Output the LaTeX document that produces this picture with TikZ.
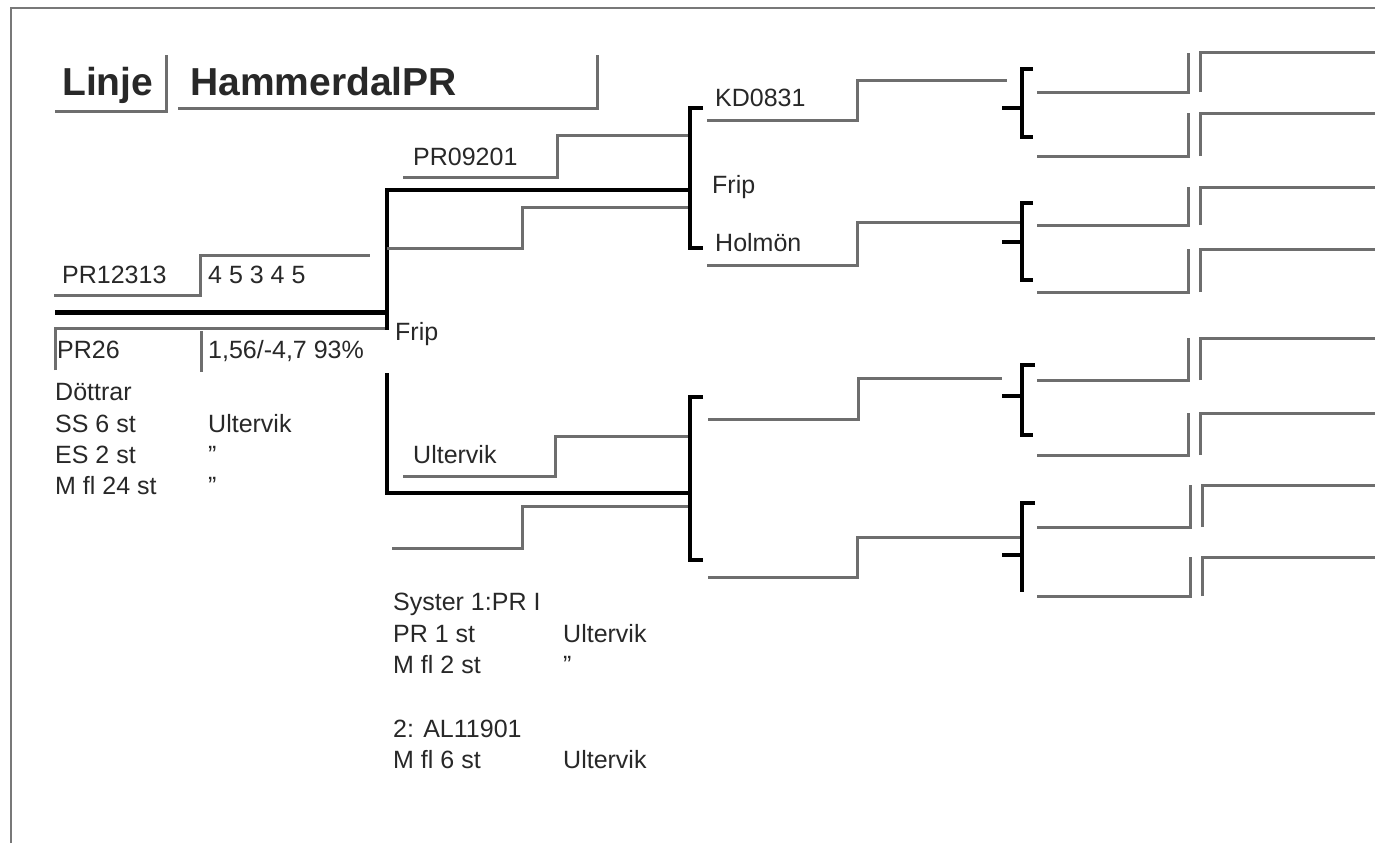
\documentclass[tikz,border=0pt]{standalone}
\usepackage{fontspec}
\setmainfont{Liberation Sans}
\definecolor{lgray}{RGB}{110,110,110}
\definecolor{ink}{RGB}{40,40,40}
\definecolor{frame}{RGB}{120,120,120}
\newcommand{\sq}{\char"22\relax}
\begin{document}
\begin{tikzpicture}[x=1pt,y=-1pt,
  gl/.style={draw=lgray,line width=3pt,line join=miter},
  bl/.style={draw=black,line width=3.5pt,line join=miter},
  bk/.style={draw=black,line width=5pt},
  brk/.style={draw=black,line width=4.5pt,line join=miter},
  txt/.style={inner sep=0pt,anchor=base west,text=ink,font=\fontsize{25}{30}\selectfont},
  ttl/.style={inner sep=0pt,anchor=base west,text=ink,font=\fontsize{39}{44}\selectfont\bfseries}]
\useasboundingbox (0,0) rectangle (1375,843);
\fill[white] (0,0) rectangle (1375,843);
% frame
\draw[frame,line width=1.5pt] (11,843) -- (11,8) -- (1375,8);
% title
\node[ttl] (linje) at (62,95) {Linje};
\node[ttl] (hammer) at (190,95) {HammerdalPR};
\draw[gl] (55,111) -- (166,111) -- (166,55);
\draw[gl] (178,108) -- (597,108) -- (597,55);
% left block
\node[txt] (pr12313) at (62,283) {PR12313};
\node[txt] (score) at (208,283) {4 5 3 4 5};
\node[txt] (pr26) at (57,358) {PR26};
\node[txt] (idx) at (208,358) {1,56/-4,7 93\%};
\node[txt] (dottrar) at (55,400) {Döttrar};
\node[txt] (ss) at (55,432) {SS 6 st};
\node[txt] (es) at (55,463) {ES 2 st};
\node[txt] (mfl) at (55,494) {M fl 24 st};
\node[txt] (ult1) at (208,432) {Ultervik};
\node[txt] (q1) at (208,463) {\sq};
\node[txt] (q2) at (208,494) {\sq};
\draw[gl] (54,295) -- (200,295) -- (200,255) -- (370,255);
\draw[bk] (55,312) -- (387,312);
\draw[gl] (55,370) -- (55,328) -- (387,328);
\draw[gl] (201,331) -- (201,372);
% sire branch
\node[txt] (frip1) at (395,340) {Frip};
\draw[bl] (690,190) -- (387,190) -- (387,330);
\draw[gl] (387,248) -- (522,248) -- (522,207) -- (690,207);
\node[txt] (pr09201) at (413,165) {PR09201};
\draw[gl] (403,177) -- (557,177) -- (557,135) -- (688,135);
\draw[brk] (703,108) -- (690,108) -- (690,248) -- (703,248);
\node[txt] (kd) at (715,106) {KD0831};
\node[txt] (frip2) at (712,193) {Frip};
\node[txt] (holmon) at (715,251) {Holmön};
\draw[gl] (707,120) -- (857,120) -- (857,80) -- (1007,80);
\draw[gl] (707,265) -- (857,265) -- (857,222) -- (1020,222);
% dam branch
\draw[bl] (387,373) -- (387,493) -- (690,493);
\node[txt] (ult2) at (413,463) {Ultervik};
\draw[gl] (403,476) -- (555,476) -- (555,436) -- (688,436);
\draw[gl] (392,548) -- (522,548) -- (522,506) -- (690,506);
\draw[brk] (703,397) -- (690,397) -- (690,560) -- (703,560);
\draw[gl] (708,419) -- (858,419) -- (858,378) -- (1002,378);
\draw[gl] (708,577) -- (857,577) -- (857,537) -- (1020,537);
% sisters
\node[txt] (syster) at (393,610) {Syster 1:PR I};
\node[txt] (pr1) at (393,642) {PR 1 st};
\node[txt] (ult3) at (563,642) {Ultervik};
\node[txt] (mfl2) at (393,673) {M fl 2 st};
\node[txt] (q3) at (563,673) {\sq};
\node[txt] (al) at (393,737) {2: AL11901};
\node[txt] (mfl6) at (393,768) {M fl 6 st};
\node[txt] (ult4) at (563,768) {Ultervik};
% right brackets
\draw[brk] (1033,69) -- (1022,69) -- (1022,137) -- (1033,137);
\draw[brk] (1002,108) -- (1022,108);
\draw[brk] (1033,203) -- (1022,203) -- (1022,280) -- (1033,280);
\draw[brk] (1002,242) -- (1022,242);
\draw[brk] (1035,365) -- (1022,365) -- (1022,435) -- (1033,435);
\draw[brk] (1002,396) -- (1022,396);
\draw[brk] (1035,503) -- (1022,503) -- (1022,592);
\draw[brk] (1002,555) -- (1022,555);
% right leaves
\foreach \a/\b/\c in {92/53/1188, 156/113/1188, 225/187/1188, 292/249/1188, 380/338/1188, 455/413/1188, 527/485/1190, 596/557/1190}{
  \draw[gl] (1037,\a) -- (\c,\a) -- (\c,\b);
  \draw[gl] (\c+12,\a) -- (\c+12,\b) -- (1375,\b);
}
\end{tikzpicture}
\end{document}
